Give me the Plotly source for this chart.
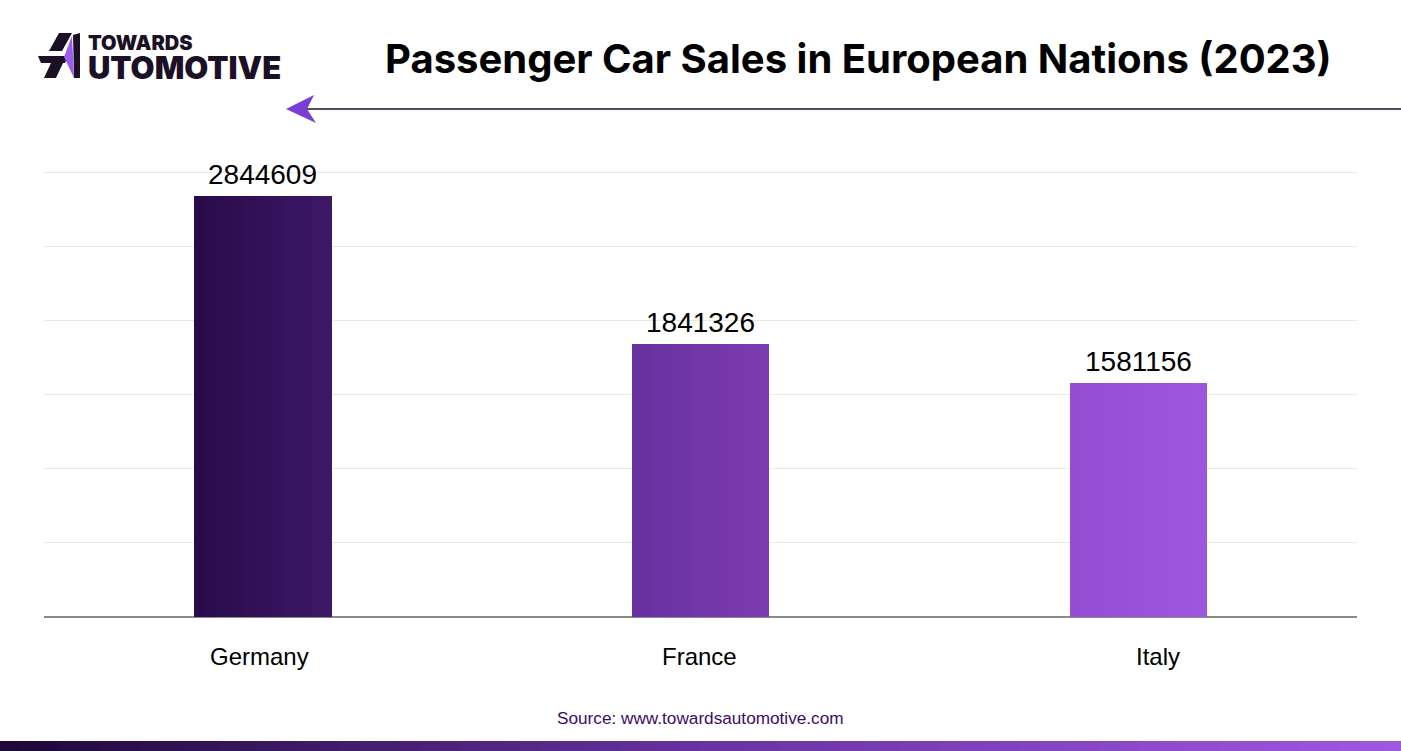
import plotly.graph_objects as go

# ---- data ----
countries = ["Germany", "France", "Italy"]
sales = [2844609, 1841326, 1581156]
value_labels = ["2844609", "1841326", "1581156"]
y_ticks = [0, 500000, 1000000, 1500000, 2000000, 2500000, 3000000]

# ---- styles ----
left_cols = [(0x29, 0x0B, 0x4B), (0x67, 0x30, 0x9F), (0x94, 0x4E, 0xD4)]
right_cols = [(0x3D, 0x18, 0x66), (0x7C, 0x3C, 0xB1), (0x9D, 0x56, 0xDE)]
label_xshift = [-3, -1.5, 20]
N_STRIPS = 14
BAR_W = 0.313
W, H = 1401, 751
L, R, T, B = 44, 44, 171, 134
PW, PH = W - L - R, H - T - B


def lerp(c1, c2, t):
    t = max(0.0, min(1.0, t))
    return "rgb(%d,%d,%d)" % tuple(round(a + (b - a) * t) for a, b in zip(c1, c2))


def pxx(x):
    return (x - L) / PW


def pxy(y):
    return (H - B - y) / PH


def path(points):
    return "M " + " L ".join("%f,%f" % (pxx(x), pxy(y)) for x, y in points) + " Z"


xs = list(range(len(countries)))
fig = go.Figure()
sw = BAR_W / N_STRIPS
for i in range(N_STRIPS):
    t = i / (N_STRIPS - 1)
    fig.add_trace(go.Bar(
        x=xs, y=sales,
        offset=-BAR_W / 2 + i * sw, width=sw * 1.03,
        marker=dict(color=[lerp(l, r, t) for l, r in zip(left_cols, right_cols)], line=dict(width=0)),
        showlegend=False, hoverinfo="skip" if i else "y",
    ))

shapes = []
# title arrow line
shapes.append(dict(type="line", xref="paper", yref="paper",
                   x0=pxx(306), x1=pxx(W + 2), y0=pxy(109), y1=pxy(109),
                   line=dict(color="#1b1025", width=1.5)))
# arrowhead
shapes.append(dict(type="path", xref="paper", yref="paper",
                   path=path([(286, 109), (314, 95), (307, 109), (316, 123)]),
                   fillcolor="#7a3dd6", line=dict(width=0)))
# bottom gradient band
NB = 70
dark = (0x1E, 0x08, 0x38)
mid = (0x68, 0x32, 0xA0)
light = (0x9E, 0x58, 0xE0)
for k in range(NB):
    t = k / (NB - 1)
    c = lerp(dark, mid, t * 2) if t < 0.5 else lerp(mid, light, (t - 0.5) * 2)
    x0 = W * k / NB
    x1 = W * (k + 1) / NB + 1
    shapes.append(dict(type="rect", xref="paper", yref="paper",
                       x0=pxx(x0), x1=pxx(x1), y0=pxy(H + 1), y1=pxy(741),
                       fillcolor=c, line=dict(width=0), layer="above"))
# logo "A" glyph
logo_black = "#1b1025"
for pts in [
    [(49, 51), (59, 33), (72, 33), (62, 51)],
    [(38, 56), (68, 56), (65, 63), (41, 63)],
    [(44, 78), (51, 63), (63, 63), (56, 78)],
    [(73, 35), (80, 33), (80, 78), (74, 78)],
]:
    shapes.append(dict(type="path", xref="paper", yref="paper", path=path(pts),
                       fillcolor=logo_black, line=dict(width=0)))
shapes.append(dict(type="path", xref="paper", yref="paper",
                   path=path([(72, 36), (74, 78), (64, 57)]),
                   fillcolor="#9d5cf0", line=dict(width=0)))

annotations = [
    dict(text="<b>Passenger Car Sales in European Nations (2023)</b>", xref="paper", yref="paper",
         x=pxx(858), y=pxy(58), xanchor="center", yanchor="middle", showarrow=False,
         font=dict(family="Inter", size=40, color="#000000")),
    dict(text="<span style='font-size:20px'>TOWARDS</span><br>"
              "<span style='font-size:31px'>UTOMOTIVE</span>",
         xref="paper", yref="paper", x=pxx(86), y=pxy(58), align="left",
         xanchor="left", yanchor="middle", showarrow=False,
         font=dict(family="Inter", size=22, color=logo_black, weight=900)),
    dict(text="Source: www.towardsautomotive.com", xref="paper", yref="paper",
         x=pxx(700), y=pxy(718), xanchor="center", yanchor="middle", showarrow=False,
         font=dict(family="Liberation Sans, Arial", size=17.2, color="#3d0a6c")),
]
for xi, v, lab in zip(xs, sales, value_labels):
    annotations.append(dict(text=lab, x=xi, y=v, xref="x", yref="y", xanchor="center",
                            yanchor="bottom", yshift=4, showarrow=False,
                            font=dict(family="Liberation Sans, Arial", size=28, color="#000000")))
for xi, name, dx in zip(xs, countries, label_xshift):
    annotations.append(dict(text=name, x=xi, y=pxy(656), xref="x", yref="paper", xanchor="center",
                            yanchor="middle", xshift=dx, showarrow=False,
                            font=dict(family="Liberation Sans, Arial", size=24, color="#000000")))

fig.update_layout(
    shapes=shapes, annotations=annotations,
    width=W, height=H,
    margin=dict(l=L, r=R, t=T, b=B),
    paper_bgcolor="white", plot_bgcolor="white",
    barmode="overlay", bargap=0,
    xaxis=dict(tickmode="array", tickvals=xs, range=[-0.5, 2.5],
               showticklabels=False, showgrid=False, showline=False, ticks="", zeroline=False),
    yaxis=dict(range=[0, 3012000], tickvals=y_ticks, showticklabels=False, showgrid=True,
               gridcolor="#e9e9e9", gridwidth=1, zeroline=True, zerolinecolor="#8a8a8a",
               zerolinewidth=1.5, showline=False),
)

fig.write_html("out.html", config={"displayModeBar": False},
               post_script="document.body.style.margin='0';document.body.style.padding='0';")
